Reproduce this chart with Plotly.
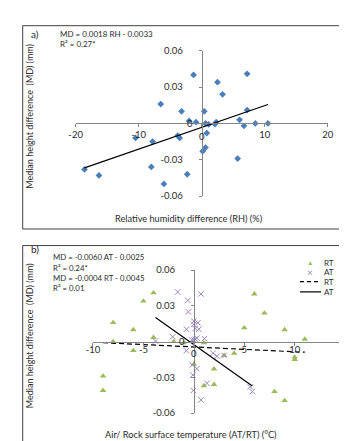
import plotly.graph_objects as go

W, H = 347, 441

# ---------------- Panel a data ----------------
rh_x = [-1.3, 7.2, 2.5, 3.3, -6.5, -3.2, 0.4, 7.2, -2.0, -0.9, 0.6, 1.1, 2.1, 2.3,
        6.0, 6.7, 8.5, 10.5, 0.8, -3.8, -3.5, -10.5, -7.8, 0.6, 0.15, 5.7, -8.0,
        -18.6, -16.3, -2.3, -6.0]
rh_md = [0.040, 0.041, 0.034, 0.024, 0.016, 0.010, 0.010, 0.011, 0.002, 0.001, 0.0,
         -0.0008, -0.0005, 0.001, 0.003, -0.002, 0.0, 0.0, -0.008, -0.010, -0.012,
         -0.012, -0.015, -0.020, -0.023, -0.029, -0.036, -0.038, -0.043, -0.042, -0.050]
rh_slope, rh_icpt = 0.0018, -0.0033

# ---------------- Panel b data ----------------
rt_x = [-4, -5, -8, -6, -4, -8, -2, -1, -6, -9, -9, 1, 0, 1, 2, 2, 3, 4, 5, 6, 7, 9,
        11, 10, 10, 8, 9]
rt_md = [0.041, 0.034, 0.016, 0.010, 0.0035, 0.0, 0.0, -0.001, -0.0076, -0.029, -0.041,
         -0.001, -0.019, -0.037, -0.036, -0.023, -0.0116, -0.0097, 0.0116, 0.040, 0.024,
         0.010, 0.002, -0.013, -0.015, -0.042, -0.0495]
at_x = [-1.6, 0.7, -0.6, -0.54, 0.0, 0.0, 0.4, -0.73, 0.13, 0.5, -2.1, -3.8, -0.2,
        0.0, 0.16, 0.3, 1.05, -0.75, 1.9, 2.3, 3.0, -0.15, 0.3, -0.1, 1.3, -0.05,
        0.7, 5.6, 5.8]
at_md = [0.0416, 0.040, 0.0346, 0.025, 0.0172, 0.0145, 0.0158, 0.0104, 0.011, 0.0104,
         0.004, 0.0005, 0.0014, 0.0016, 0.002, 0.003, 0.0025, -0.0076, -0.0098, -0.0123,
         -0.0116, -0.0195, -0.0227, -0.028, -0.035, -0.041, -0.049, -0.038, -0.042]
at_slope, at_icpt = -0.0060, -0.0025
rt_slope, rt_icpt = -0.0004, -0.0045

y_ticks = [-0.06, -0.03, 0, 0.03, 0.06]
y_ticktext = ["-0.06", "-0.03", "0", "0.03", "0.06"]
xa_ticks = [-20, -10, 0, 10, 20]
xb_ticks = [-10, -5, 0, 5, 10, 15]
legend_labels = ["RT", "AT", "RT", "AT"]

FONT = "Lato, 'Open Sans', sans-serif"
TXT = "#2b2b2b"
AX = "#868686"
GREEN = "#9BBB59"
PURPLE = "#9B86C4"

def px_x(p):
    return p / W

def px_y(p):
    return 1 - p / H

# plot-area domains (pixels measured from reference)
a_dx = [px_x(63), px_x(325)]
a_dy = [px_y(186.7), px_y(37.7)]
b_dx = [px_x(81), px_x(343)]
b_dy = [px_y(409.3), px_y(262.7)]
a_rx, a_ry = [-20, 20], [-0.06, 0.06]
b_rx, b_ry = [-10, 15], [-0.06, 0.06]

def zero_pos(dom, rng):
    return dom[0] + (0 - rng[0]) / (rng[1] - rng[0]) * (dom[1] - dom[0])

def blank_zero(vals, texts=None):
    texts = texts or [str(v) for v in vals]
    return ["" if v == 0 else t for v, t in zip(vals, texts)]

fig = go.Figure()

# Panel a
fig.add_trace(go.Scatter(x=rh_x, y=rh_md, mode="markers", xaxis="x", yaxis="y",
                         marker=dict(symbol="diamond", size=5.2, color="#4A7EBB"),
                         showlegend=False, cliponaxis=False))
lx = [min(rh_x), max(rh_x)]
fig.add_trace(go.Scatter(x=lx, y=[rh_slope * v + rh_icpt for v in lx], mode="lines",
                         xaxis="x", yaxis="y", line=dict(color="#000000", width=1.2),
                         showlegend=False))

# Panel b
fig.add_trace(go.Scatter(x=rt_x, y=rt_md, mode="markers", name="RT", xaxis="x2", yaxis="y2",
                         marker=dict(symbol="triangle-up", size=5.8, color=GREEN),
                         showlegend=False, cliponaxis=False))
fig.add_trace(go.Scatter(x=at_x, y=at_md, mode="markers", name="AT", xaxis="x2", yaxis="y2",
                         marker=dict(symbol="x-thin", size=5.5, color=PURPLE,
                                     line=dict(color=PURPLE, width=1)),
                         showlegend=False, cliponaxis=False))
lrt = [min(rt_x), max(rt_x)]
fig.add_trace(go.Scatter(x=lrt, y=[rt_slope * v + rt_icpt for v in lrt], mode="lines",
                         name="RT", xaxis="x2", yaxis="y2", showlegend=False,
                         line=dict(color="#000000", width=1.2, dash="5px,3px")))
lat = [min(at_x), max(at_x)]
fig.add_trace(go.Scatter(x=lat, y=[at_slope * v + at_icpt for v in lat], mode="lines",
                         name="AT", xaxis="x2", yaxis="y2", showlegend=False,
                         line=dict(color="#000000", width=1.2)))

axis_common = dict(showgrid=False, zeroline=False, showline=True, linecolor=AX,
                   linewidth=1, ticks="outside", ticklen=3, tickcolor=AX,
                   tickfont=dict(family=FONT, size=9.5, color=TXT), fixedrange=True)

fig.update_layout(
    width=W, height=H, margin=dict(l=0, r=0, t=0, b=0),
    paper_bgcolor="white", plot_bgcolor="rgba(0,0,0,0)",
    font=dict(family=FONT, color=TXT), showlegend=False,
    xaxis=dict(domain=a_dx, range=a_rx, anchor="free", position=zero_pos(a_dy, a_ry),
               tickvals=xa_ticks, ticktext=blank_zero(xa_ticks), ticklabelstandoff=-1,
               **axis_common),
    yaxis=dict(domain=a_dy, range=a_ry, anchor="free", position=zero_pos(a_dx, a_rx),
               tickvals=y_ticks, ticktext=blank_zero(y_ticks, y_ticktext),
               ticklabelstandoff=14, **axis_common),
    xaxis2=dict(domain=b_dx, range=b_rx, anchor="free", position=zero_pos(b_dy, b_ry),
                tickvals=xb_ticks, ticktext=blank_zero(xb_ticks), ticklabelstandoff=-4,
                **axis_common),
    yaxis2=dict(domain=b_dy, range=b_ry, anchor="free", position=zero_pos(b_dx, b_rx),
                tickvals=y_ticks, ticktext=blank_zero(y_ticks, y_ticktext),
                ticklabelstandoff=14, **axis_common),
)

# "0" labels at the axis crossing, drawn above the markers like in the original
for xr, yr, dx_y, dy_x in [("x", "y", -11.3, -13.5), ("x2", "y2", -11.8, -12)]:
    fig.add_annotation(text="0", xref=xr, yref=yr, x=0, y=0, xshift=dx_y, yshift=0,
                       showarrow=False, font=dict(family=FONT, size=9.5, color=TXT))
    fig.add_annotation(text="0", xref=xr, yref=yr, x=0, y=0, xshift=0, yshift=dy_x,
                       showarrow=False, font=dict(family=FONT, size=9.5, color=TXT))

# panel borders
fig.add_shape(type="rect", xref="paper", yref="paper", x0=px_x(8), x1=1.05,
              y0=px_y(220.5), y1=px_y(12), line=dict(color="#404040", width=1))
fig.add_shape(type="rect", xref="paper", yref="paper", x0=px_x(8), x1=1.05,
              y0=-0.05, y1=px_y(237.5), line=dict(color="#404040", width=1))

def ann(text, x, y, size, anchor="left", angle=0, color=TXT):
    fig.add_annotation(text=text, xref="paper", yref="paper", x=px_x(x), y=px_y(y),
                       xanchor=anchor, yanchor="middle", showarrow=False, textangle=angle,
                       font=dict(family=FONT, size=size, color=color))

ann("a)", 15, 21, 10)
ann("MD = 0.0018 RH - 0.0033", 45, 20, 8)
ann("R² = 0.27*", 45, 30.5, 8)
ann("b)", 15, 241, 10)
ann("MD = -0.0060 AT - 0.0025", 37, 249.5, 7.8)
ann("R² = 0.24*", 37, 260.5, 7.8)
ann("MD = -0.0004 RT - 0.0045", 37, 270.5, 7.8)
ann("R² = 0.01", 37, 281, 7.8)

ann("Median height difference  (MD) (mm)", 15, 105, 9, anchor="center", angle=-90)
ann("Median height difference  (MD) (mm)", 15, 330, 9, anchor="center", angle=-90)
ann("Relative humidity difference (RH) (%)", 181, 210, 9.2, anchor="center")
ann("Air/ Rock surface temperature (AT/RT) (°C)", 183, 431, 9.2, anchor="center")

# legend (panel b, top right)
leg_y = [255, 264.5, 274.5, 285]
ann("▲", 306.7, leg_y[0], 6.5, anchor="center", color=GREEN)
ann("×", 306.7, leg_y[1], 10, anchor="center", color=PURPLE)
fig.add_shape(type="line", xref="paper", yref="paper", x0=px_x(296), x1=px_x(316),
              y0=px_y(leg_y[2]), y1=px_y(leg_y[2]),
              line=dict(color="#000000", width=1.2, dash="4px,3px"))
fig.add_shape(type="line", xref="paper", yref="paper", x0=px_x(296), x1=px_x(318),
              y0=px_y(leg_y[3]), y1=px_y(leg_y[3]), line=dict(color="#000000", width=1.2))
for lbl, yy in zip(legend_labels, leg_y):
    ann(lbl, 319, yy, 8)

fig.write_html("out.html")
